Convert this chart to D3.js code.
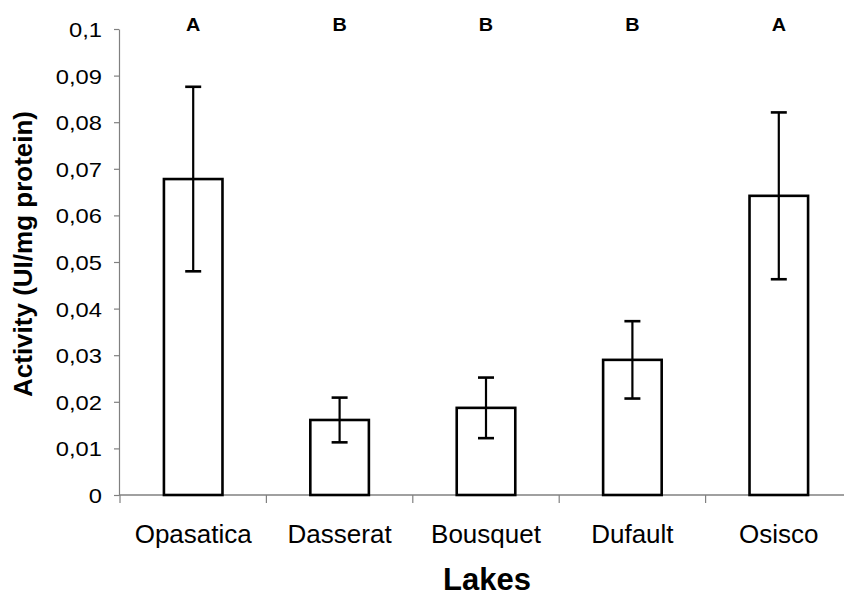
<!DOCTYPE html>
<html>
<head>
<meta charset="utf-8">
<script src="https://cdn.jsdelivr.net/npm/d3@7"></script>
<style>
  html, body { margin: 0; padding: 0; background: #fff; }
  svg { display: block; }
  text { font-family: "Liberation Sans", Arial, sans-serif; fill: #000; }
</style>
</head>
<body>
<svg id="chart" width="844" height="596"></svg>
<script>
// Enzyme activity per lake (mean ± error), with significance groups
const categories = ["Opasatica", "Dasserat", "Bousquet", "Dufault", "Osisco"];
const means      = [0.0678, 0.0161, 0.0187, 0.0290, 0.0642];
const errors     = [0.0198, 0.0048, 0.0065, 0.0083, 0.0179];
const groups     = ["A", "B", "B", "B", "A"];
const yTicks     = [0, 0.01, 0.02, 0.03, 0.04, 0.05, 0.06, 0.07, 0.08, 0.09, 0.1];

const svg = d3.select("#chart");

const x = d3.scaleBand().domain(categories).range([120, 852]).paddingInner(0).paddingOuter(0);
const y = d3.scaleLinear().domain([0, 0.1]).range([495, 29]);

const fmt = d3.formatLocale({ decimal: ",", thousands: ".", grouping: [3], currency: ["", ""] }).format(".2~f");

const barW = x.bandwidth() * 0.4;
const capW = 16;
const axisColor = "#808080";

// Y axis
const yAxis = svg.append("g")
  .attr("transform", "translate(119,0)")
  .call(d3.axisLeft(y).tickValues(yTicks).tickFormat(fmt).tickSize(5).tickPadding(13).tickSizeOuter(0));
yAxis.select(".domain").attr("stroke", axisColor).attr("stroke-width", 1.2);
yAxis.selectAll(".tick line").attr("stroke", axisColor).attr("stroke-width", 1.2);
yAxis.selectAll(".tick text")
  .attr("font-family", "Liberation Sans, Arial, sans-serif")
  .attr("font-size", 21).attr("fill", "#000").attr("dy", "0.36em")
  .attr("x", 0)
  .attr("transform", "translate(-17,0) scale(1.13,1)");

// X axis with ticks at category boundaries
const baseY = y(0);
svg.append("line")
  .attr("x1", 119).attr("x2", 852).attr("y1", baseY).attr("y2", baseY)
  .attr("stroke", axisColor).attr("stroke-width", 1.5);
const bounds = categories.map(c => x(c)).concat([x(categories[categories.length - 1]) + x.bandwidth()]);
svg.append("g").selectAll("line").data(bounds).join("line")
  .attr("x1", d => d).attr("x2", d => d)
  .attr("y1", baseY).attr("y2", baseY + 8)
  .attr("stroke", axisColor).attr("stroke-width", 1.2);

// Bars
svg.append("g").selectAll("rect").data(categories).join("rect")
  .attr("x", (c) => x(c) + x.bandwidth() / 2 - barW / 2)
  .attr("y", (c, i) => y(means[i]))
  .attr("width", barW)
  .attr("height", (c, i) => baseY - y(means[i]))
  .attr("fill", "#fff").attr("stroke", "#000").attr("stroke-width", 2.6);

// Error bars
const eb = svg.append("g").selectAll("g").data(categories).join("g")
  .attr("transform", c => `translate(${x(c) + x.bandwidth() / 2},0)`);
eb.append("line")
  .attr("y1", (c, i) => y(means[i] + errors[i]))
  .attr("y2", (c, i) => y(means[i] - errors[i]))
  .attr("stroke", "#000").attr("stroke-width", 2.2);
eb.append("line")
  .attr("x1", -capW / 2).attr("x2", capW / 2)
  .attr("y1", (c, i) => y(means[i] + errors[i]))
  .attr("y2", (c, i) => y(means[i] + errors[i]))
  .attr("stroke", "#000").attr("stroke-width", 2.6);
eb.append("line")
  .attr("x1", -capW / 2).attr("x2", capW / 2)
  .attr("y1", (c, i) => y(means[i] - errors[i]))
  .attr("y2", (c, i) => y(means[i] - errors[i]))
  .attr("stroke", "#000").attr("stroke-width", 2.6);

// Significance group letters
svg.append("g").selectAll("text").data(categories).join("text")
  .attr("transform", c => `translate(${x(c) + x.bandwidth() / 2},31) scale(1.1,1)`)
  .attr("text-anchor", "middle")
  .attr("font-weight", "bold").attr("font-size", 18)
  .text((c, i) => groups[i]);

// Category labels
svg.append("g").selectAll("text").data(categories).join("text")
  .attr("x", c => x(c) + x.bandwidth() / 2)
  .attr("y", 543)
  .attr("text-anchor", "middle")
  .attr("font-size", 26)
  .text(c => c);

// Axis titles
svg.append("text")
  .attr("x", 487).attr("y", 590)
  .attr("text-anchor", "middle")
  .attr("font-weight", "bold").attr("font-size", 31)
  .text("Lakes");

svg.append("text")
  .attr("transform", "translate(32,254) rotate(-90)")
  .attr("text-anchor", "middle")
  .attr("font-weight", "bold").attr("font-size", 26)
  .text("Activity (UI/mg protein)");
</script>
</body>
</html>
